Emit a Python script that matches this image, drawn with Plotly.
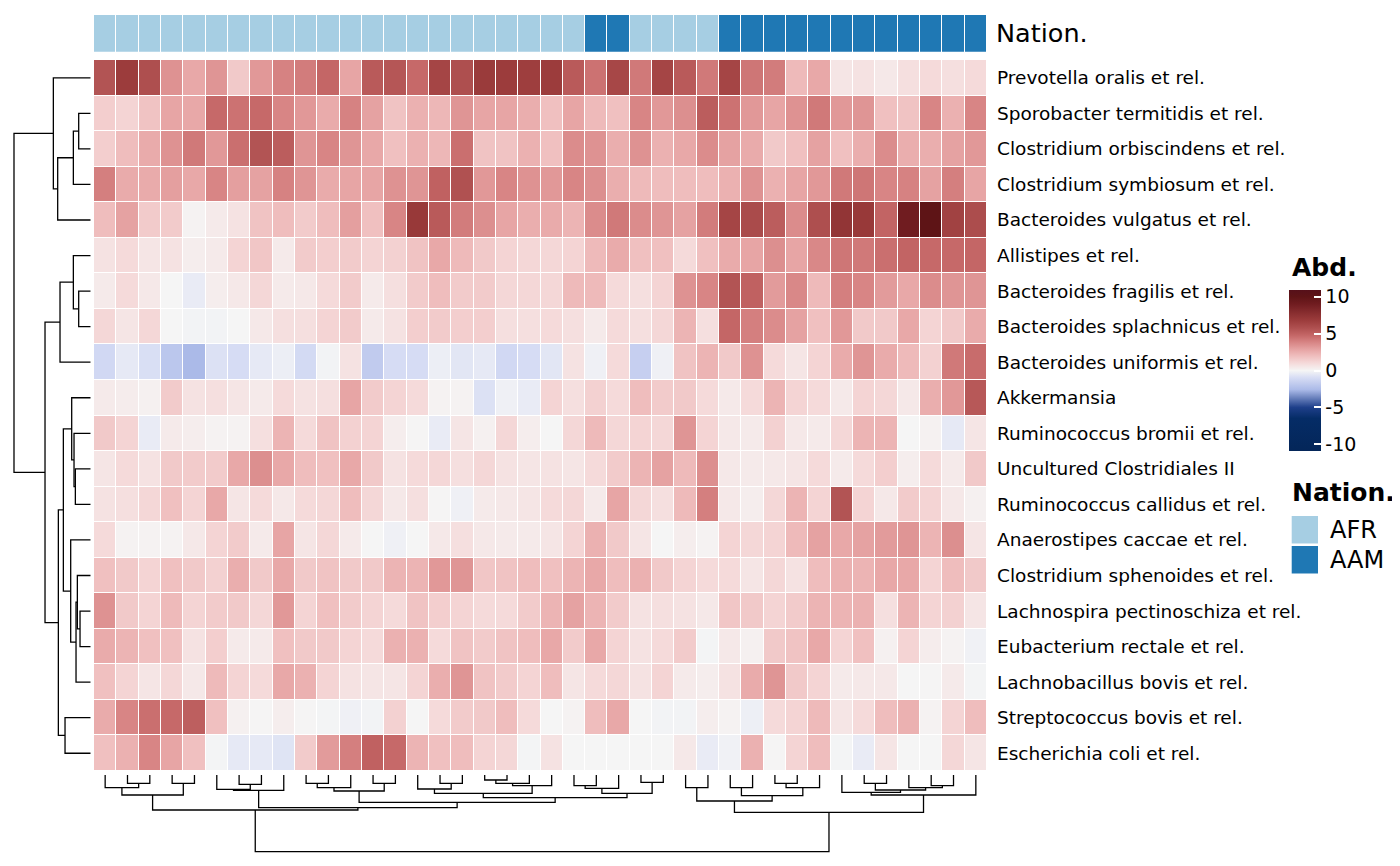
import plotly.graph_objs as go

# ---- data ----
taxa = ['Prevotella oralis et rel.', 'Sporobacter termitidis et rel.',
        'Clostridium orbiscindens et rel.', 'Clostridium symbiosum et rel.',
        'Bacteroides vulgatus et rel.', 'Allistipes et rel.',
        'Bacteroides fragilis et rel.', 'Bacteroides splachnicus et rel.',
        'Bacteroides uniformis et rel.', 'Akkermansia',
        'Ruminococcus bromii et rel.', 'Uncultured Clostridiales II',
        'Ruminococcus callidus et rel.', 'Anaerostipes caccae et rel.',
        'Clostridium sphenoides et rel.', 'Lachnospira pectinoschiza et rel.',
        'Eubacterium rectale et rel.', 'Lachnobacillus bovis et rel.',
        'Streptococcus bovis et rel.', 'Escherichia coli et rel.']

nation = ['AFR'] * 22 + ['AAM'] * 2 + ['AFR'] * 4 + ['AAM'] * 12

abundance = [
    [5.6, 6.8, 5.8, 3.4, 2.7, 3.3, 1.6, 3.2, 3.9, 4.1, 4.8, 2.8, 5.3, 5.5, 4.7, 6.3, 5.8, 6.9, 6.8, 6.7,
     6.8, 5.3, 4.4, 6.2, 4.2, 6.3, 5.3, 4.2, 6.3, 4.3, 4.1, 2.1, 2.7, 0.6, 0.7, 0.5, 0.8, 1.0, 0.8, 1.0],
    [1.4, 1.2, 1.8, 2.8, 2.7, 4.7, 4.4, 4.7, 3.8, 3.2, 2.6, 3.9, 2.9, 1.8, 2.4, 2.2, 3.3, 2.8, 2.8, 2.5,
     1.9, 2.8, 2.1, 1.9, 3.8, 3.2, 3.5, 5.2, 4.4, 3.2, 2.8, 3.4, 4.2, 3.2, 3.3, 1.9, 1.8, 3.8, 2.4, 3.8],
    [1.4, 2.0, 2.6, 3.4, 4.2, 3.2, 4.5, 5.6, 5.2, 3.3, 3.8, 3.3, 2.7, 1.9, 2.4, 2.2, 4.5, 1.8, 1.8, 2.4,
     1.9, 3.6, 3.4, 2.5, 3.4, 2.4, 2.7, 3.6, 2.9, 2.6, 1.6, 1.9, 2.9, 1.9, 2.5, 3.6, 2.5, 2.5, 2.9, 3.2],
    [4.0, 2.6, 2.6, 3.0, 2.7, 3.8, 3.0, 2.9, 3.9, 3.3, 2.6, 2.8, 2.8, 3.4, 3.3, 5.0, 5.7, 3.2, 3.8, 3.4,
     3.2, 3.8, 3.5, 2.5, 2.1, 2.0, 2.0, 2.0, 2.4, 3.4, 2.4, 2.8, 3.2, 4.2, 4.3, 3.8, 3.9, 2.9, 4.0, 2.8],
    [2.0, 2.9, 1.5, 1.5, 0.1, 0.4, 0.7, 1.8, 2.0, 1.5, 2.0, 3.0, 1.9, 3.8, 7.0, 5.3, 4.1, 3.5, 2.8, 2.5,
     2.6, 2.3, 3.6, 4.2, 3.6, 3.3, 2.9, 4.1, 6.3, 6.0, 5.2, 3.6, 5.8, 7.3, 7.0, 4.9, 9.0, 10.0, 6.5, 5.9],
    [0.7, 1.0, 0.6, 0.7, 0.3, 0.4, 1.2, 1.7, 0.4, 1.5, 1.4, 1.5, 1.2, 1.3, 1.8, 2.7, 2.1, 1.6, 1.2, 1.1,
     1.1, 1.2, 2.1, 2.6, 1.9, 1.9, 1.0, 1.9, 2.6, 2.8, 3.5, 2.8, 3.7, 4.3, 4.2, 4.5, 4.9, 4.7, 4.7, 4.8],
    [0.4, 1.0, 0.5, 0.0, -0.4, 0.3, 0.5, 1.1, 0.4, 0.5, 1.0, 1.5, 0.4, 0.8, 1.5, 2.0, 1.5, 1.5, 1.1, 1.1,
     1.1, 2.1, 2.1, 1.0, 0.8, 1.2, 3.4, 3.8, 5.6, 5.0, 3.1, 3.7, 2.1, 4.0, 3.8, 3.1, 2.7, 3.6, 3.3, 3.3],
    [1.1, 0.6, 1.1, 0.0, -0.1, -0.1, 0.0, 0.5, 0.8, 0.8, 1.2, 1.5, 0.4, 0.7, 1.4, 1.5, 1.4, 1.4, 0.8, 0.8,
     1.0, 0.8, 0.4, 1.0, 0.8, 1.1, 2.3, 0.8, 4.8, 4.0, 3.6, 2.9, 1.9, 3.2, 1.6, 1.6, 2.7, 1.2, 1.6, 2.6],
    [-1.2, -0.5, -0.9, -2.0, -2.6, -0.8, -1.0, -0.5, -0.3, -1.1, -0.1, 0.7, -1.8, -1.0, -1.0, -0.3, -0.6, -0.5, -1.2, -1.0,
     -0.6, 0.7, -0.2, 1.0, -1.6, -0.2, 1.8, 2.3, 1.6, 3.4, 1.0, 0.6, 1.2, 2.6, 3.3, 2.6, 2.1, 1.3, 4.2, 4.6],
    [0.4, 0.35, 0.2, 1.5, 0.7, 0.8, 0.6, 0.4, 1.0, 0.7, 0.8, 2.8, 1.5, 1.2, 1.0, 0.1, 0.1, -0.8, -0.2, -0.4,
     1.2, 0.8, 1.3, 1.0, 2.0, 1.5, 1.6, 1.0, 0.45, 1.0, 2.3, 1.2, 1.0, 0.45, 1.2, 1.1, 0.5, 2.5, 3.2, 5.4],
    [1.6, 1.2, -0.4, 0.4, 0.3, 0.1, 0.1, 0.8, 2.3, 1.0, 1.8, 1.3, 1.2, 0.3, 0.05, -0.4, 0.6, 0.2, 1.1, 0.3,
     0.0, 1.1, 2.1, 1.1, 1.2, 1.1, 3.3, 1.2, 0.5, 0.4, 1.3, 0.5, 0.4, 1.1, 2.3, 2.3, 0.0, 0.15, -0.5, 0.6],
    [0.6, 1.0, 0.7, 1.6, 1.5, 1.5, 2.7, 3.5, 2.7, 2.0, 1.9, 2.7, 1.6, 0.7, 1.0, 1.1, 0.8, 1.1, 0.7, 0.6,
     0.7, 0.6, 1.0, 1.5, 2.3, 2.9, 2.1, 3.5, 0.5, 0.4, 0.5, 0.6, 1.0, 0.4, 1.0, 1.4, 0.3, 1.0, 0.4, 1.6],
    [0.7, 0.8, 1.1, 1.9, 1.2, 2.7, 0.6, 1.0, 0.5, 1.0, 1.1, 2.0, 1.1, 0.5, 0.8, 0.05, -0.2, 0.4, 0.5, 0.6,
     1.0, 1.1, 0.4, 2.8, 1.1, 0.8, 2.1, 4.0, 0.5, 0.3, 1.1, 2.3, 1.2, 5.6, 1.2, 0.5, 1.5, 1.2, 0.5, 0.2],
    [1.0, 0.1, 0.1, 0.1, 0.5, 1.2, 1.5, 0.4, 2.8, 0.6, 1.1, 0.4, 0.0, -0.2, 0.0, 0.5, 0.8, 0.5, 0.4, 0.4,
     0.6, 1.2, 2.4, 1.6, 0.6, 0.0, 0.3, 0.1, 1.2, 1.1, 1.2, 2.1, 2.9, 2.7, 2.9, 3.1, 3.3, 2.3, 3.5, 0.6],
    [1.9, 1.6, 1.2, 1.9, 1.6, 1.3, 2.5, 1.6, 2.7, 1.6, 1.8, 1.6, 1.6, 2.3, 2.3, 3.2, 3.3, 1.7, 1.8, 2.0,
     1.9, 2.3, 2.7, 2.0, 2.4, 1.6, 1.2, 1.0, 1.0, 0.6, 1.1, 0.7, 2.0, 2.4, 2.3, 2.7, 2.7, 1.2, 2.0, 1.6],
    [3.4, 1.6, 1.2, 2.1, 1.2, 1.5, 1.6, 1.1, 3.2, 1.2, 1.9, 1.5, 1.2, 1.0, 1.8, 1.4, 1.2, 1.0, 1.0, 1.5,
     2.3, 2.9, 2.3, 1.5, 0.7, 0.8, 0.7, 0.5, 1.7, 1.6, 1.2, 1.5, 2.3, 2.3, 2.4, 0.8, 2.3, 1.2, 1.3, 0.6],
    [2.6, 2.3, 1.9, 1.9, 0.7, 1.4, 0.4, 0.4, 1.9, 1.6, 1.6, 1.2, 1.0, 2.4, 2.4, 1.0, 1.8, 1.5, 1.8, 2.0,
     2.7, 1.5, 2.7, 1.2, 0.7, 1.0, 1.5, -0.05, 0.5, 0.2, 1.6, 1.8, 2.7, 1.2, 1.9, 0.2, 1.2, 0.35, 0.1, -0.15],
    [1.9, 1.2, 0.6, 1.1, 0.5, 2.1, 1.2, 1.0, 2.7, 2.4, 1.2, 0.7, 0.6, 0.6, 1.2, 2.5, 3.3, 1.8, 1.5, 1.2,
     2.0, 0.6, 1.0, 1.1, 0.7, 1.2, 0.4, 0.3, 0.7, 2.6, 3.3, 1.6, 1.2, 0.4, 0.5, 0.5, 0.0, 0.05, 0.4, -0.05],
    [2.6, 3.8, 4.5, 4.7, 5.1, 1.9, 0.2, 0.05, 0.3, 0.05, -0.05, -0.2, -0.1, 1.3, 0.0, 1.0, 1.5, 1.6, 2.0, 1.0,
     0.0, 0.1, 2.0, 2.7, 0.0, -0.1, -0.1, 0.3, 0.1, -0.25, 1.0, 1.2, 2.1, 0.6, 1.0, 2.0, 2.4, 0.1, 1.2, 2.0],
    [1.9, 2.4, 3.8, 2.8, 1.9, -0.05, -0.5, -0.5, -0.7, 1.5, 3.1, 4.0, 5.0, 4.7, 2.3, 1.9, 2.0, 1.2, 1.1, -0.05,
     0.7, 0.0, 0.0, 0.0, 0.0, 0.0, 0.5, -0.4, -0.15, 2.4, 0.05, 1.2, 2.0, -0.05, -0.4, 0.6, 0.0, 0.0, 1.1, 0.6],
]

# dendrograms as nested [height, left, right]; leaves are row / column indices
row_tree = [230,
            [112, 0, [99, [52, [36, 1, 2], 3], 4]],
            [137,
             [92, [52, 5, [36, 6, 7]], 8],
             [97,
              [82, [57, 9, [50, 10, [46, 11, 12]]],
                   [60, 13, [44, [40, 14, [32, 15, 16]], 17]]],
              [77, 18, 19]]]]

col_tree = [230,
            [105,
             [60, [38, 0, [25, 1, 2]], [25, 3, 4]],
             [98,
              [46, [43, 5, [28, 6, 7]], 8],
              [82,
               [48, [38, [25, 9, 10], 11], [25, 12, 13]],
               [68,
                [55, [42, 14, [25, 15, 16]], [32, [25, [15, 17, 18], 19], 20]],
                [55, [40, [32, 21, 22], 23], [22, 24, 25]]]]]],
            [112,
             [78, [38, 26, 27], [62, [38, 28, 29], [38, [25, 30, 31], 32]]],
             [60, [52, 33, [45, [25, 34, 35], [38, 36, [32, 37, 38]]]], 39]]]

nation_colors = {'AFR': '#a6cee3', 'AAM': '#1f78b4'}
abd_ticks = [-10, -5, 0, 5, 10]

# the page puts the plot 8px in from the top-left corner
OFF = 8
W, H = 1400 - OFF, 866 - OFF
FONT = 'DejaVu Sans'


def px_x(p):
    return (p - OFF) / W


def px_y(p):
    return 1 - (p - OFF) / H


def dendro(node, pos, hgt):
    # walk the tree, collect the U-shaped links
    if isinstance(node, int):
        return node, 0.0
    h, a, b = node
    pa, ha = dendro(a, pos, hgt)
    pb, hb = dendro(b, pos, hgt)
    pos += [pa, pa, pb, pb, None]
    hgt += [ha, h, h, hb, None]
    return (pa + pb) / 2, h


# colour ramp (blue - white - red)
zmin, zmax = -10.9, 10.9
ramp = [(-10.9, '#042659'), (-6.5, '#052c66'), (-5, '#1e3f8a'), (-2.6, '#abbae8'),
        (-1, '#d6dcf4'), (0, '#f5f5f5'), (1, '#f5dada'), (2, '#efbdbd'),
        (2.7, '#e8a8a8'), (3.9, '#d68282'), (4.8, '#c46666'), (5.8, '#ae4f4f'),
        (6.8, '#9c3c3c'), (9, '#701c20'), (10, '#5e1416'), (10.9, '#56101a')]
colorscale = [[(v - zmin) / (zmax - zmin), c] for v, c in ramp]

n_rows, n_cols = len(taxa), len(nation)

# pixel layout (page coordinates)
hm_l, hm_r, hm_t, hm_b = 94, 987, 60, 771
cb_l, cb_t, cb_b, cb_w = 1289.3, 290, 451, 31.5

data = []

data.append(go.Heatmap(
    z=abundance, x=list(range(n_cols)), y=list(range(n_rows)),
    colorscale=colorscale, zmin=zmin, zmax=zmax, xgap=1, ygap=1,
    colorbar=dict(x=px_x(cb_l), xanchor='left', xpad=0, ypad=0,
                  y=px_y((cb_t + cb_b) / 2), yanchor='middle',
                  len=cb_b - cb_t, lenmode='pixels',
                  thickness=cb_w, thicknessmode='pixels', outlinewidth=0,
                  tickvals=abd_ticks, ticktext=[str(t) for t in abd_ticks],
                  ticks='inside', ticklen=7, tickwidth=1.5, tickcolor='white',
                  tickfont=dict(family=FONT, size=19, color='black')),
    hoverinfo='skip'))

nat_codes = [0 if n == 'AFR' else 1 for n in nation]
data.append(go.Heatmap(
    z=[nat_codes], x=list(range(n_cols)), y=[0], xaxis='x', yaxis='y2',
    colorscale=[[0, nation_colors['AFR']], [0.5, nation_colors['AFR']],
                [0.5, nation_colors['AAM']], [1, nation_colors['AAM']]],
    zmin=0, zmax=1, showscale=False, xgap=1, ygap=0, hoverinfo='skip'))

rp, rh = [], []
dendro(row_tree, rp, rh)
data.append(go.Scatter(x=rh, y=rp, mode='lines', xaxis='x3', yaxis='y',
                       line=dict(color='black', width=1.3), hoverinfo='skip'))

cp, ch = [], []
dendro(col_tree, cp, ch)
data.append(go.Scatter(x=cp, y=ch, mode='lines', xaxis='x', yaxis='y3',
                       line=dict(color='black', width=1.3), hoverinfo='skip'))

pad = 1.02
root_row, root_col = row_tree[0], col_tree[0]
dend_len = 76.7

layout = go.Layout(
    width=W, height=H, margin=dict(l=0, r=0, t=0, b=0),
    paper_bgcolor='white', plot_bgcolor='white', showlegend=False,
    font=dict(family=FONT, color='black'),
    xaxis=dict(domain=[px_x(hm_l), px_x(hm_r)], range=[-0.5, n_cols - 0.5],
               showgrid=False, zeroline=False, showticklabels=False, ticks=''),
    yaxis=dict(domain=[px_y(hm_b), px_y(hm_t)], range=[n_rows - 0.5, -0.5],
               side='right', tickvals=list(range(n_rows)), ticktext=taxa,
               ticks='', ticklabelstandoff=9,
               tickfont=dict(family=FONT, size=18.5, color='black'),
               showgrid=False, zeroline=False),
    yaxis2=dict(domain=[px_y(51.7), px_y(15)], range=[0.5, -0.5], anchor='x',
                side='right', tickvals=[0], ticktext=['Nation.'], ticks='',
                ticklabelstandoff=8,
                tickfont=dict(family=FONT, size=25.5, color='black'),
                showgrid=False, zeroline=False),
    xaxis3=dict(domain=[px_x(90.7 - dend_len * pad), px_x(90.7)],
                range=[root_row * pad, 0], anchor='y',
                showgrid=False, zeroline=False, showticklabels=False, ticks=''),
    yaxis3=dict(domain=[px_y(775 + dend_len * pad), px_y(775)],
                range=[root_col * pad, 0], anchor='x',
                showgrid=False, zeroline=False, showticklabels=False, ticks=''),
)

fig = go.Figure(data=data, layout=layout)

# white tick dashes on the left edge of the colour bar
for t in abd_ticks:
    yy = cb_b - (t - zmin) / (zmax - zmin) * (cb_b - cb_t)
    fig.add_shape(type='line', xref='paper', yref='paper',
                  x0=px_x(cb_l), x1=px_x(cb_l + 7), y0=px_y(yy), y1=px_y(yy),
                  line=dict(color='white', width=1.5))

# legend: Abd. title, Nation. swatches
fig.add_annotation(x=px_x(1290), y=px_y(268), xref='paper', yref='paper',
                   text='<b>Abd.</b>', showarrow=False, xanchor='left', yanchor='middle',
                   font=dict(family=FONT, size=25, color='black'))
fig.add_annotation(x=px_x(1290), y=px_y(492), xref='paper', yref='paper',
                   text='<b>Nation.</b>', showarrow=False, xanchor='left', yanchor='middle',
                   font=dict(family=FONT, size=25, color='black'))

sw_top = 516
for i, lab in enumerate(['AFR', 'AAM']):
    y0 = sw_top + i * 30
    fig.add_shape(type='rect', xref='paper', yref='paper',
                  x0=px_x(1291.7), x1=px_x(1318), y0=px_y(y0 + 27.5), y1=px_y(y0),
                  fillcolor=nation_colors[lab], line=dict(width=0))
    fig.add_annotation(x=px_x(1328), y=px_y(y0 + 14), xref='paper', yref='paper',
                       text=lab, showarrow=False, xanchor='left', yanchor='middle',
                       font=dict(family=FONT, size=24, color='black'))

fig.write_html("out.html")
